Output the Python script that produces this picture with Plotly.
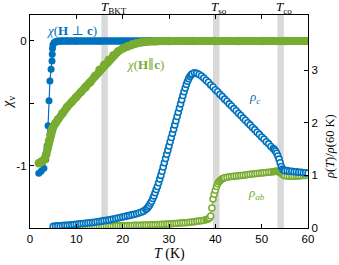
import plotly.graph_objects as go

BLUE = "#0072BD"
GREEN = "#77AC30"
GRAY = "#D9D9D9"

# ---- data ----
chi_perp_T = [1.9, 2.4, 3.0, 3.4, 3.7, 3.9, 4.1, 4.3, 4.55, 4.75, 4.8, 4.85, 4.95, 5.2, 5.6, 6.0,
              7, 8, 10, 15, 20, 25, 30, 35, 40, 45, 50, 55, 60]
chi_perp = [-1.06, -1.045, -1.02, -0.95, -0.84, -0.68, -0.48, -0.32, -0.227, -0.16, -0.107, -0.06,
            -0.03, -0.012, -0.004, -0.002, 0, 0, 0, 0, 0, 0, 0, 0, 0, 0, 0, 0, 0]

chi_par_T = [1.9, 2.3, 2.7, 3.1, 3.5, 3.8, 4.1, 4.4, 4.7, 5.0, 5.5, 6, 7, 8, 9, 10, 11, 12, 13, 14,
             15, 16, 17, 18, 19, 20, 21, 22, 23, 24, 25, 27, 30, 35, 40, 45, 50, 55, 60]
chi_par = [-0.98, -0.975, -0.965, -0.95, -0.91, -0.86, -0.80, -0.75, -0.71, -0.69, -0.66, -0.63,
           -0.58, -0.53, -0.49, -0.45, -0.41, -0.37, -0.33, -0.28, -0.23, -0.19, -0.15, -0.115,
           -0.085, -0.06, -0.042, -0.028, -0.018, -0.011, -0.006, -0.002, 0, 0, 0, 0, 0, 0, 0]

rho_c_T = [5.0, 5.5, 6.0, 6.5, 7.0, 7.5, 8.0, 8.5, 9.0, 9.5, 10.0, 10.5, 11.0, 11.5, 12.0, 12.5,
           13.0, 13.5, 14.0, 14.5, 15.0, 15.5, 16.0, 16.5, 17.0, 17.5, 18.0, 18.5, 19.0, 19.5,
           20.0, 20.5, 21.0, 21.5, 22.0, 22.5, 23.0, 23.5, 24.0, 24.5, 25.0,
           25.25, 25.5, 25.75, 26.0, 26.25, 26.5, 26.75, 27.0, 27.25, 27.5, 27.75, 28.0, 28.25,
           28.5, 28.75, 29.0, 29.25, 29.5, 29.75, 30.0, 30.25, 30.5, 30.75, 31.0, 31.25, 31.5,
           31.75, 32.0, 32.25, 32.5, 32.75, 33.0, 33.25, 33.5, 33.75, 34.0, 34.25, 34.5, 34.75, 35.0,
           35.5, 36.0, 36.5, 37.0, 37.5, 38.0, 38.5, 39.0, 39.5, 40.0, 40.5, 41.0, 41.5, 42.0,
           42.5, 43.0, 43.5, 44.0, 44.5, 45.0, 45.5, 46.0, 46.5, 47.0, 47.5, 48.0, 48.5, 49.0,
           49.5, 50.0, 50.5, 51.0, 51.5, 52.0, 52.5,
           52.75, 53.0, 53.25, 53.5, 53.75, 54.0, 54.25, 54.5, 54.75, 55.0,
           55.5, 56.0, 56.5, 57.0, 57.5, 58.0, 58.5, 59.0, 59.5, 60.0]
rho_c = [0.03, 0.035, 0.04, 0.04, 0.045, 0.05, 0.05, 0.055, 0.06, 0.065, 0.07, 0.075, 0.08, 0.085,
         0.09, 0.095, 0.10, 0.105, 0.11, 0.12, 0.125, 0.13, 0.14, 0.145, 0.15, 0.16, 0.17, 0.18,
         0.19, 0.20, 0.21, 0.22, 0.23, 0.24, 0.25, 0.26, 0.27, 0.285, 0.30, 0.32, 0.35,
         0.37, 0.40, 0.43, 0.47, 0.51, 0.56, 0.61, 0.67, 0.73, 0.79, 0.86, 0.93, 1.00, 1.08, 1.16,
         1.24, 1.32, 1.40, 1.48, 1.56, 1.64, 1.72, 1.80, 1.88, 1.96, 2.04, 2.12, 2.20, 2.28, 2.36,
         2.44, 2.52, 2.59, 2.66, 2.73, 2.79, 2.84, 2.88, 2.91, 2.93,
         2.95, 2.94, 2.92, 2.89, 2.85, 2.81, 2.77, 2.72, 2.68, 2.63, 2.59, 2.54, 2.50, 2.45, 2.41,
         2.36, 2.32, 2.27, 2.23, 2.18, 2.14, 2.09, 2.05, 2.00, 1.96, 1.91, 1.87, 1.82, 1.78, 1.73,
         1.69, 1.64, 1.60, 1.55, 1.51,
         1.49, 1.46, 1.42, 1.37, 1.31, 1.24, 1.17, 1.12, 1.10, 1.09,
         1.09, 1.08, 1.08, 1.07, 1.07, 1.06, 1.06, 1.05, 1.05, 1.04]

rho_ab_T = [10.0, 10.5, 11.0, 11.5, 12.0, 12.5, 13.0, 13.5, 14.0, 14.5, 15.0, 15.5, 16.0, 16.5,
            17.0, 17.5, 18.0, 18.5, 19.0, 19.5, 20.0, 20.5, 21.0, 21.5, 22.0, 22.5, 23.0, 23.5,
            24.0, 24.5, 25.0, 25.5, 26.0, 26.5, 27.0, 27.5, 28.0, 28.5, 29.0, 29.5, 30.0, 30.5,
            31.0, 31.5, 32.0, 32.5, 33.0, 33.5, 34.0, 34.5, 35.0, 35.5, 36.0, 36.5, 37.0, 37.5, 38.0,
            38.25, 38.5, 38.75, 39.0, 39.25, 39.5, 39.75, 40.0, 40.25, 40.5, 40.75, 41.0, 41.25,
            41.5, 41.75, 42.0,
            42.5, 43.0, 43.5, 44.0, 44.5, 45.0, 45.5, 46.0, 46.5, 47.0, 47.5, 48.0, 48.5, 49.0,
            49.5, 50.0, 50.5, 51.0, 51.5, 52.0, 52.5,
            52.75, 53.0, 53.25, 53.5, 53.75, 54.0, 54.25, 54.5, 54.75, 55.0,
            55.5, 56.0, 56.5, 57.0, 57.5, 58.0, 58.5, 59.0, 59.5, 60.0]
rho_ab = [0.025, 0.025, 0.026, 0.027, 0.028, 0.029, 0.030, 0.031, 0.032, 0.033, 0.034, 0.035,
          0.036, 0.037, 0.038, 0.039, 0.040, 0.041, 0.042, 0.043, 0.044, 0.045, 0.046, 0.047,
          0.048, 0.050, 0.051, 0.052, 0.054, 0.055, 0.057, 0.058, 0.060, 0.062, 0.064, 0.066,
          0.068, 0.070, 0.072, 0.075, 0.078, 0.081, 0.084, 0.087, 0.090, 0.094, 0.098, 0.102,
          0.106, 0.110, 0.115, 0.120, 0.126, 0.132, 0.139, 0.147, 0.156,
          0.165, 0.175, 0.19, 0.23, 0.38, 0.55, 0.64, 0.72, 0.79, 0.84, 0.88, 0.90, 0.92, 0.935,
          0.945, 0.955,
          0.965, 0.975, 0.98, 0.985, 0.99, 0.995, 1.0, 1.005, 1.01, 1.015, 1.02, 1.025, 1.03,
          1.035, 1.04, 1.045, 1.05, 1.055, 1.06, 1.065, 1.07,
          1.075, 1.08, 1.08, 1.075, 1.065, 1.05, 1.035, 1.02, 1.005, 0.995,
          0.99, 0.985, 0.985, 0.985, 0.99, 0.99, 0.995, 1.0, 1.0, 1.0]

transitions = {"BKT": (15.4, 16.8), "so": (39.5, 40.9), "co": (53.4, 54.8)}

x_ticks = [0, 10, 20, 30, 40, 50, 60]
chi_ticks = [-1, -0.5, 0]
chi_ticktext = ["-1", "", "0"]
rho_ticks = [0, 1, 2, 3]

# ---- figure ----
fig = go.Figure()

for name, (t0, t1) in transitions.items():
    fig.add_shape(type="rect", xref="x", yref="paper", x0=t0, x1=t1, y0=0, y1=1,
                  fillcolor=GRAY, line=dict(width=0), layer="below")

# susceptibility H perp c (filled, blue)
flat_start = chi_perp_T.index(5.2)
fig.add_trace(go.Scatter(x=chi_perp_T[flat_start:], y=chi_perp[flat_start:], mode="lines",
                         line=dict(color=BLUE, width=7.5), yaxis="y", showlegend=False,
                         hoverinfo="skip"))
fig.add_trace(go.Scatter(x=chi_perp_T, y=chi_perp, mode="lines+markers",
                         line=dict(color=BLUE, width=1.2),
                         marker=dict(size=7, color=BLUE), yaxis="y", showlegend=False))
# susceptibility H || c (filled, green)
fig.add_trace(go.Scatter(x=chi_par_T, y=chi_par, mode="lines+markers",
                         line=dict(color=GREEN, width=8),
                         marker=dict(size=8.5, color=GREEN), yaxis="y", showlegend=False))
# resistivities (open circles)
fig.add_trace(go.Scatter(x=rho_ab_T, y=rho_ab, mode="lines+markers",
                         line=dict(color=GREEN, width=1),
                         marker=dict(size=6, color="white", line=dict(color=GREEN, width=1.5)),
                         yaxis="y2", showlegend=False))
fig.add_trace(go.Scatter(x=rho_c_T, y=rho_c, mode="lines+markers",
                         line=dict(color=BLUE, width=1),
                         marker=dict(size=6, color="white", line=dict(color=BLUE, width=1.6)),
                         yaxis="y2", showlegend=False))

tickfont = dict(family="Liberation Sans, Arial, sans-serif", size=11.5, color="black")
serif = "Liberation Serif, DejaVu Serif, serif"

fig.update_layout(
    width=339, height=265,
    margin=dict(l=30, r=31, t=15, b=37),
    paper_bgcolor="white", plot_bgcolor="white",
    showlegend=False,
    xaxis=dict(range=[0, 60], tickvals=x_ticks, ticks="inside", ticklen=4, tickwidth=1,
               tickcolor="black", showline=True, linecolor="black", linewidth=1.2,
               mirror="ticks", showgrid=False, zeroline=False, tickfont=tickfont),
    yaxis=dict(range=[-1.5, 0.2085], tickvals=chi_ticks, ticktext=chi_ticktext,
               ticks="inside", ticklen=4, tickwidth=1, tickcolor="black", showline=True,
               linecolor="black", linewidth=1.2, showgrid=False, zeroline=False,
               tickfont=tickfont),
    yaxis2=dict(range=[0, 4.05], tickvals=rho_ticks, overlaying="y", side="right",
                ticks="inside", ticklen=4, tickwidth=1, tickcolor="black", showline=True,
                linecolor="black", linewidth=1.2, showgrid=False, zeroline=False,
                tickfont=tickfont),
)

def px2paper(px, py):
    return (px - 30) / 278.0, (228 - py) / 213.0

annots = [
    ("<i>T</i> (K)", 169, 254, 0, 14, "black"),
    ("<i>χ</i><sub>v</sub>", 8, 103, -90, 14, "black"),
    ("<i>ρ</i>(<i>T</i>)/<i>ρ</i>(60 K)", 330, 147, -90, 12.5, "black"),
    ("<i>T</i><sub>BKT</sub>", 114, 8, 0, 13, "black"),
    ("<i>T</i><sub>so</sub>", 219, 8, 0, 13, "black"),
    ("<i>T</i><sub>co</sub>", 284, 8, 0, 13, "black"),
    ("<i>χ</i>(<b>H</b> ⊥ <b>c</b>)", 71, 31, 0, 13, BLUE),
    ("<i>χ</i>(<b>H</b>∥<b>c</b>)", 144.5, 64, 0, 13, GREEN),
    ("<i>ρ<sub>c</sub></i>", 254, 97, 0, 13, BLUE),
    ("<i>ρ<sub>ab</sub></i>", 256.5, 193, 0, 13, GREEN),
]
for text, px, py, ang, size, col in annots:
    xp, yp = px2paper(px, py)
    fig.add_annotation(text=text, x=xp, y=yp, xref="paper", yref="paper",
                       xanchor="center", yanchor="middle", showarrow=False,
                       textangle=ang, font=dict(family=serif, size=size, color=col))

fig.write_html("out.html", config={"displayModeBar": False},
               post_script="document.body.style.margin='0px';")
